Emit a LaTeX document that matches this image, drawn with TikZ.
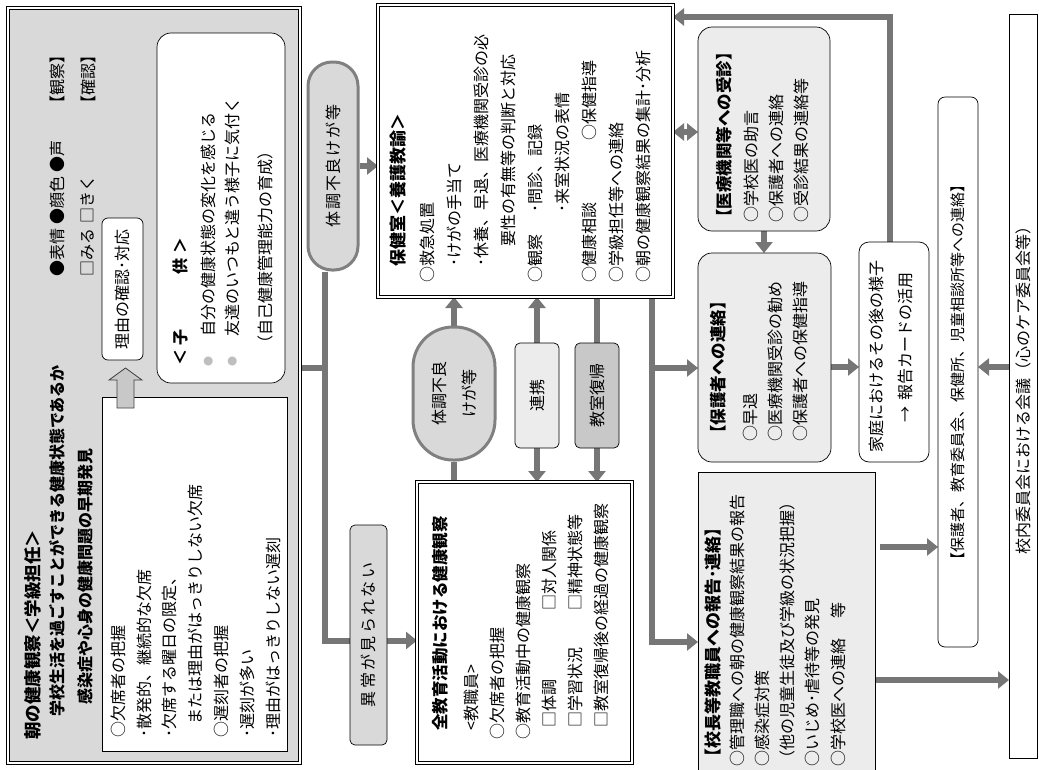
\documentclass[tikz,border=0pt]{standalone}
\usepackage{fontspec}
\usepackage{graphicx}
\setmainfont{Noto Sans CJK JP}
\newfontfamily\spacedjp[LetterSpace=11]{Noto Sans CJK JP}
\newfontfamily\widejp[LetterSpace=14.5]{Noto Sans CJK JP}
\usetikzlibrary{arrows.meta, positioning, calc, backgrounds}
\definecolor{linkgray}{RGB}{118,118,118}
\definecolor{pillgray}{RGB}{128,128,128}
\definecolor{panelgray}{RGB}{217,217,217}
\definecolor{palegray}{RGB}{236,236,236}
\definecolor{midgray}{RGB}{200,200,200}
\definecolor{arrowfill}{RGB}{200,200,200}
\definecolor{dotgray}{RGB}{190,190,190}
\newcommand{\graydot}{\raisebox{2pt}{\fontsize{10}{10}\selectfont\color{dotgray}●}}

\begin{document}
\begin{tikzpicture}[
    x=1pt, y=-1pt,
    box/.style={draw=black, line width=0.7pt, inner sep=0pt, outer sep=0pt, font=\fontsize{16}{20}\selectfont},
    framed/.style={box, double=white, double distance=2.2pt},
    softbox/.style={box, rounded corners=14pt},
    tagbox/.style={box, rounded corners=5pt},
    pill/.style={draw=pillgray, line width=3pt, fill=panelgray, inner sep=0pt, font=\fontsize{16}{20}\selectfont},
    vtext/.style={rotate=90, anchor=north west, align=left, inner sep=0pt, font=\fontsize{16}{26}\selectfont},
    vhead/.style={vtext, font=\fontsize{16.5}{20}\selectfont\bfseries},
    link/.style={draw=linkgray, line width=6pt},
    arrowlink/.style={link, -{Triangle[length=11pt, width=17pt]}},
    biarrow/.style={link, {Triangle[length=11pt, width=17pt]}-{Triangle[length=11pt, width=17pt]}},
    hollowarrow/.style={draw=black!75, line width=0.8pt, fill=arrowfill},
]
\useasboundingbox (0,0) rectangle (1039,769);

% Morning check by the class teacher
\node[framed, fill=panelgray, minimum width=292pt, minimum height=755pt] (morning) at (154,385.5) {};
\node[box, fill=white, minimum width=185pt, minimum height=354pt] (absent) at (194.5,574) {};
\node[softbox, fill=white, minimum width=128pt, minimum height=350pt] (child) at (221,208) {};
\node[tagbox, fill=white, rounded corners=6pt, minimum width=41pt, minimum height=142pt] (reason) at (122.5,289) {\rotatebox{90}{理由の確認･対応}};

\node[vtext, font=\fontsize{17.5}{20}\selectfont\bfseries] (mTitle) at (24,740) {朝の健康観察＜学級担任＞};
\node[vhead, font=\fontsize{16}{20}\selectfont\bfseries] (mAim) at (49.5,717) {学校生活を過ごすことができる健康状態であるか};
\node[vhead, font=\fontsize{16}{20}\selectfont\bfseries] (mFocus) at (77.5,705) {感染症や心身の健康問題の早期発見};
\node[vtext] (mLook) at (49.5,277) {●表情\hspace{4pt}●顔色\hspace{4pt}●声};
\node[vtext] (mObs) at (49.5,112) {【観察】};
\node[vtext] (mAsk) at (80.5,277) {□みる\hspace{5pt}□きく};
\node[vtext] (mChk) at (80.5,112) {【確認】};

\node[vtext, font=\fontsize{16}{25.8}\selectfont] (absentText) at (110.5,738) {○欠席者の把握\\･散発的、継続的な欠席\\･欠席する曜日の限定、\\\hspace*{13pt}または理由がはっきりしない欠席\\○遅刻者の把握\\･遅刻が多い\\･理由がはっきりしない遅刻};

\node[vtext, font=\fontsize{16}{20}\selectfont\bfseries] (childHead) at (172.5,366) {＜\hspace*{.3em}子\hspace{3.4em}供\hspace{.3em}＞};
\node[vtext, font=\fontsize{16}{24}\selectfont] (childText) at (200.5,367) {\graydot\hspace*{20pt}自分の健康状態の変化を感じる\\\graydot\hspace*{20pt}友達のいつもと違う様子に気付く};
\node[vtext] (childGoal) at (257.5,352) {（自己健康管理能力の育成）};

\draw[hollowarrow] ($(absent.north west)+(15,11)$) -- ++(0,-28) -- ++(-8,0) -- ++(16.5,-12) -- ++(16.5,12) -- ++(-8,0) -- ++(0,28) -- cycle;

% Flow towards the health room
\node[pill, rounded corners=24pt, minimum width=50pt, minimum height=208pt] (pillA) at (333,166) {\rotatebox{90}{\spacedjp 体調不良けが等}};
\node[tagbox, fill=panelgray, minimum width=37pt, minimum height=220pt] (normal) at (368.5,635) {\rotatebox{90}{\widejp 異常が見られない}};

% Health room
\node[framed, fill=white, minimum width=295pt, minimum height=292pt] (hoken) at (525.5,151) {};
\node[vtext, font=\fontsize{17}{20}\selectfont\bfseries] (hokenHead) at (390,267) {保健室＜養護教諭＞};
\node[vtext, font=\fontsize{16}{27}\selectfont] (hokenText) at (419.5,283) {○救急処置\\\hspace*{1em}･けがの手当て\\\hspace*{1em}･休養、早退、医療機関受診の必\\\hspace*{2.3em}要性の有無等の判断と対応\\\makebox[4.4em][l]{○観察}･問診、記録\\\hspace*{4.4em}･来室状況の表情\\\makebox[8.9em][l]{○健康相談}○保健指導\\○学級担任等への連絡\\○朝の健康観察結果の集計･分析};

% Tags between the two rooms
\node[pill, rounded corners=40pt, minimum width=82pt, minimum height=133pt] (pillB) at (454,393.5) {};
\node[rotate=90, align=center, font=\fontsize{16}{30}\selectfont] (pillBText) at (pillB.center) {体調不良\\けが等};
\node[tagbox, fill=palegray, minimum width=44pt, minimum height=105pt] (renkei) at (537,395.5) {\rotatebox{90}{連携}};
\node[tagbox, fill=midgray, minimum width=44pt, minimum height=105pt] (fukki) at (597,395.5) {\rotatebox{90}{教室復帰}};

% Whole school observation
\node[framed, fill=white, minimum width=215pt, minimum height=281pt] (zenkyo) at (524.5,622.5) {};
\node[vtext, font=\fontsize{16.5}{20}\selectfont\bfseries] (zenkyoHead) at (432,731) {全教育活動における健康観察};
\node[vtext] (zenkyoStaff) at (463.5,731) {<教職員>};
\node[vtext, font=\fontsize{16}{26}\selectfont] (zenkyoText) at (489.5,740) {○欠席者の把握\\○教育活動中の健康観察\\\hspace*{.8em}\makebox[7.3em][l]{□体調}□対人関係\\\hspace*{.8em}\makebox[7.3em][l]{□学習状況}□精神状態等\\\hspace*{.8em}□教室復帰後の経過の健康観察};

% Medical care, parents, report
\node[softbox, fill=palegray, minimum width=132pt, minimum height=204pt] (iryo) at (764,129) {};
\node[vhead] (iryoHead) at (716,226) {【医療機関等への受診】};
\node[vtext, font=\fontsize{16}{25}\selectfont] (iryoText) at (744,223) {○学校医の助言\\○保護者への連絡\\○受診結果の連絡等};
\node[softbox, fill=palegray, minimum width=133pt, minimum height=209pt] (parent) at (764.5,357.5) {};
\node[vhead] (parentHead) at (710.5,442) {【保護者への連絡】};
\node[vtext, font=\fontsize{16}{25}\selectfont] (parentText) at (743.5,442) {○早退\\○医療機関受診の勧め\\○保護者への保健指導};
\node[box, fill=palegray, minimum width=177pt, minimum height=300pt] (principal) at (786.5,622) {};
\node[vhead, font=\fontsize{17}{20}\selectfont\bfseries] (principalHead) at (705,766) {【校長等教職員への報告･連絡】};
\node[vtext, font=\fontsize{16}{25.2}\selectfont] (principalText) at (729.5,767) {○管理職への朝の健康観察結果の報告\\○感染症対策\\（他の児童生徒及び学級の状況把握）\\○いじめ･虐待等の発見\\○学校医への連絡\hspace{1.3em}等};

% Right column
\node[softbox, rounded corners=10pt, fill=white, minimum width=70pt, minimum height=220pt] (home) at (894,352) {};
\node[vtext, font=\fontsize{16}{29}\selectfont] (homeText) at (868.5,453) {家庭におけるその後の様子\\\hspace*{1.9em}→\hspace{.4em}報告カードの活用};
\node[tagbox, rounded corners=7pt, fill=white, minimum width=40pt, minimum height=550pt, font=\fontsize{15}{18}\selectfont] (outside) at (958,372) {\rotatebox{90}{【保護者、教育委員会、保健所、児童相談所等への連絡】}};
\node[box, fill=white, minimum width=28pt, minimum height=744pt] (committee) at (1023,386) {\rotatebox{90}{校内委員会における会議（心のケア委員会等）}};

% Connectors
\begin{scope}[on background layer]
\coordinate (fork) at (325,368);
\coordinate (reportFork) at (652,368);
\draw[link] (morning.east |- fork) -- (fork);
\draw[arrowlink] (pillA.south -| fork) |- ($(zenkyo.west)+(0,18)$);
\draw[arrowlink] (pillA.east) -- (pillA.east -| hoken.west);
\draw[arrowlink] (pillB.north) -- (pillB.north |- hoken.south);
\draw[link] (pillB.south) -- (pillB.south |- zenkyo.north);
\draw[arrowlink] (renkei.north) -- (renkei.north |- hoken.south);
\draw[arrowlink] (renkei.south) -- (renkei.south |- zenkyo.north);
\draw[link] (fukki.north |- hoken.south) -- (fukki.north);
\draw[arrowlink] (fukki.south) -- (fukki.south |- zenkyo.north);
\draw[arrowlink] (hoken.south -| reportFork) |- (principal.west |- 0,642);
\draw[arrowlink] (reportFork) -- (parent.west |- reportFork);
\draw[biarrow] (hoken.east |- 0,132) -- (iryo.west |- 0,132);
\draw[arrowlink] (iryo.south) -- (iryo.south |- parent.north);
\draw[arrowlink] (parent.east |- 0,367) -- (home.west |- 0,367);
\draw[arrowlink] ($(home.north)+(-4,0)$) |- ($(hoken.north east)+(0,12)$);
\draw[arrowlink] ($(principal.east |- 0,547)+(5,0)$) -- (outside.west |- 0,547);
\draw[arrowlink] (principal.east |- 0,680) -- (committee.west |- 0,680);
\draw[arrowlink] (committee.west |- 0,367) -- (outside.east |- 0,367);
\end{scope}

\end{tikzpicture}
\end{document}
